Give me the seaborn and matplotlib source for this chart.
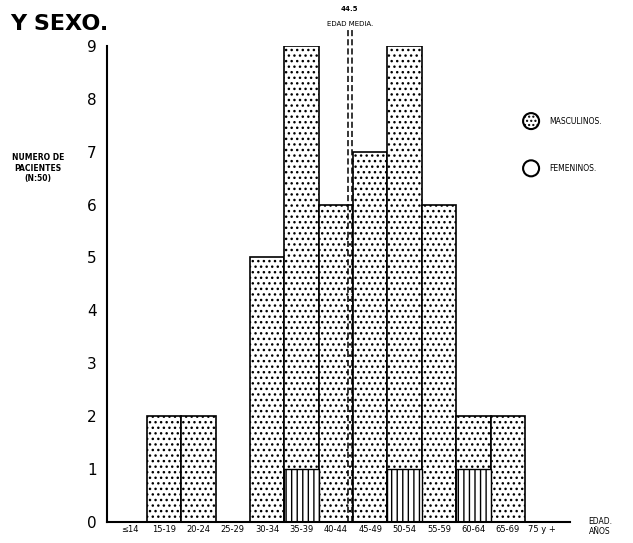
import numpy as np
import pandas as pd
import matplotlib
matplotlib.use("Agg")
import matplotlib.pyplot as plt
from matplotlib.patches import Ellipse
import seaborn as sns

# Data
age_groups = ["≤14", "15-19", "20-24", "25-29", "30-34", "35-39", "40-44",
              "45-49", "50-54", "55-59", "60-64", "65-69", "75 y +"]
total_patients = [0, 2, 2, 0, 5, 9, 6, 7, 9, 6, 2, 2, 0]
female_patients = [0, 0, 0, 0, 0, 1, 0, 0, 1, 0, 1, 0, 0]
mean_age = 44.5

df = pd.DataFrame({"grupo": age_groups, "total": total_patients,
                   "femenino": female_patients})

sns.set_style("white")
plt.rcParams["font.family"] = ["DejaVu Sans"]
plt.rcParams["hatch.linewidth"] = 1.0
plt.rcParams["text.color"] = "black"
plt.rcParams["xtick.color"] = "black"
plt.rcParams["ytick.color"] = "black"

fig = plt.figure(figsize=(6.33, 5.43), dpi=100)
ax = fig.add_axes([0.169, 0.0387, 0.731, 0.877])

# total bars (masculine stipple), female part drawn over the bottom
sns.barplot(data=df, x="grupo", y="total", order=age_groups, color="white",
            edgecolor="black", linewidth=1.2, hatch="...", width=1.0, ax=ax)
sns.barplot(data=df, x="grupo", y="femenino", order=age_groups, color="white",
            edgecolor="black", linewidth=1.0, hatch="|||", width=1.0, ax=ax)

ax.set_xlim(-0.66, 12.8)
ax.set_ylim(0, 9)
ax.set_yticks(range(10))
ax.set_yticklabels([str(i) for i in range(10)], fontsize=11)
ax.tick_params(axis="y", direction="inout", length=7, width=1, pad=4)
ax.tick_params(axis="x", length=0, pad=2, labelsize=6)
ax.set_xlabel("")
ax.set_ylabel("")
for s in ["top", "right"]:
    ax.spines[s].set_visible(False)
for s in ["left", "bottom"]:
    ax.spines[s].set_linewidth(1.5)
    ax.spines[s].set_color("black")

# mean age line (bins of 5 years starting at 15 on position 1)
xm = 0.5 + (mean_age - 15) / 5
for dx in (-0.06, 0.06):
    ax.plot([xm + dx, xm + dx], [0, 9.3], color="black", lw=1.1,
            ls=(0, (4, 2)), clip_on=False, zorder=10)
ax.text(xm, 9.7, "44.5", fontsize=5, ha="center", va="center", fontweight="bold")
ax.text(xm, 9.42, "EDAD MEDIA.", fontsize=5, ha="center", va="center")

# titles and labels
fig.text(0.016, 0.955, "Y SEXO.", fontsize=16, fontweight="bold", va="center")
fig.text(0.06, 0.69, "NUMERO DE\nPACIENTES\n(N:50)", fontsize=5.5,
         fontweight="bold", ha="center", va="center", linespacing=1.2)
fig.text(0.948, 0.03, "EDAD.\nAÑOS", fontsize=5.5, ha="center", va="center",
         linespacing=1.1)

# legend circles
for yc, hatch, label in [(0.777, "....", "MASCULINOS."), (0.69, None, "FEMENINOS.")]:
    e = Ellipse((0.839, yc), 16 / 633, 16 / 543, transform=fig.transFigure,
                facecolor="white", edgecolor="black", lw=1.5, hatch=hatch)
    fig.patches.append(e)
    fig.text(0.868, yc, label, fontsize=5.5, va="center")

fig.savefig("out.png", dpi=100)
